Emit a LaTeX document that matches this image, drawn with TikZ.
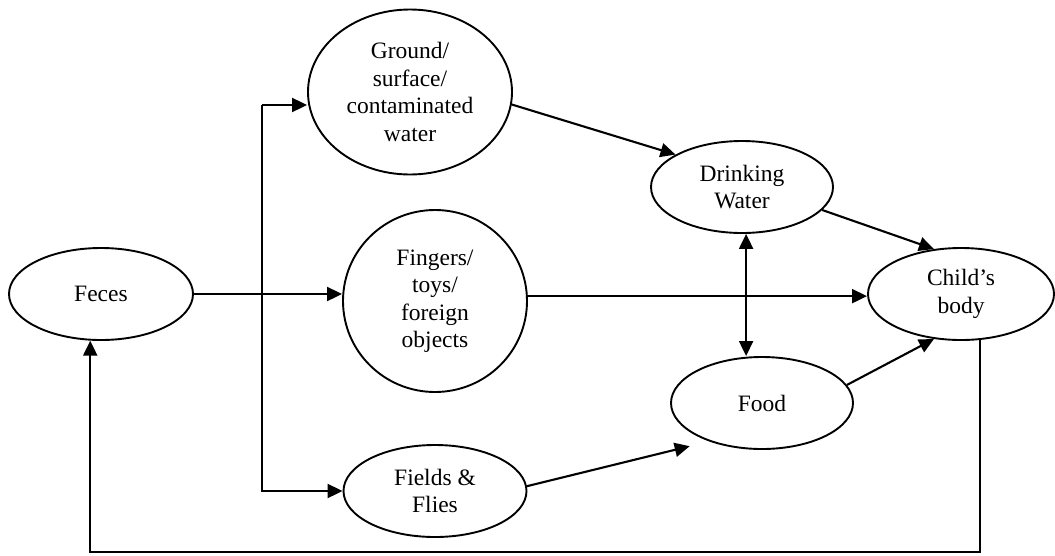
\documentclass[tikz,border=0pt]{standalone}
\usepackage{fontspec}
\setmainfont{Liberation Serif}
\usetikzlibrary{shapes.geometric,arrows.meta}
\tikzset{
  blob/.style={ellipse,draw,line width=1.9pt,inner sep=0pt,align=center,
    font=\fontsize{23.5}{27.5}\selectfont},
  arr/.style={line width=2.1pt,-{Triangle[length=15pt,width=14pt]}},
  dbl/.style={line width=2.1pt,{Triangle[length=15pt,width=14pt]}-{Triangle[length=15pt,width=14pt]}},
}
\begin{document}
\begin{tikzpicture}[x=1pt,y=1pt]
\useasboundingbox (0,0) rectangle (1055,-555);
\node[blob,minimum width=184pt,minimum height=92pt] (feces) at (101,-294) {Feces};
\node[blob,minimum width=204pt,minimum height=165pt] (ground) at (410,-92) {Ground/\\surface/\\contaminated\\water};
\node[blob,minimum width=184pt,minimum height=182pt] (fingers) at (435,-301) {Fingers/\\toys/\\foreign\\objects};
\node[blob,minimum width=183pt,minimum height=92pt] (fields) at (435,-491) {Fields \&\\Flies};
\node[blob,minimum width=182pt,minimum height=92pt] (drink) at (742,-187) {Drinking\\Water};
\node[blob,minimum width=182pt,minimum height=92pt] (food) at (762,-403) {Food};
\node[blob,minimum width=186pt,minimum height=92pt] (child) at (961,-294) {Child's\\body};

\coordinate (jt) at (262,-105);
\coordinate (bot) at (0,-552);

\draw[arr] (feces.east) -- (feces.east -| fingers.west);
\draw[arr] (jt) -- (jt -| ground.west);
\draw[arr] (jt) |- (fields.west);
\draw[arr] (ground.-7) -- (drink.154);
\draw[arr] (drink.-16) -- (child.121);
\draw[arr] (fingers.3) -- (fingers.3 -| child.west);
\draw[dbl] (drink.-85) -- (drink.-85 |- food.north);
\draw[arr,shorten >=20pt] (fields.3) -- (food.216);
\draw[arr] (food.12) -- (child.-121);
\draw[arr] (child.-68) |- (feces.-103 |- bot) -- (feces.-103);
\end{tikzpicture}
\end{document}
